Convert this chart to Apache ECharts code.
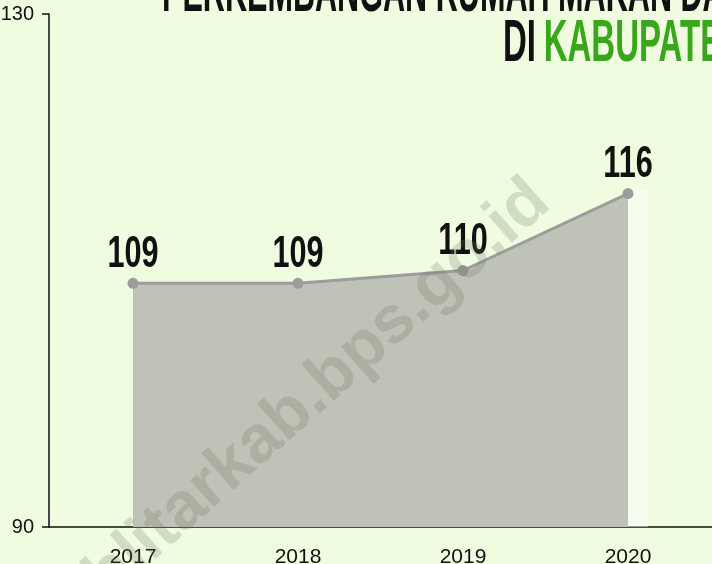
<!DOCTYPE html>
<html>
<head>
<meta charset="utf-8">
<script src="https://cdn.jsdelivr.net/npm/echarts@6/dist/echarts.min.js"></script>
<style>
  html, body { margin: 0; padding: 0; background: #f0fce0; }
  #chart { width: 712px; height: 564px; }
</style>
</head>
<body>
<div id="chart"></div>
<script>
// data
var years = [2017, 2018, 2019, 2020];
var values = [109, 109, 110, 116];
var yTicks = [90, 130];

var sans = "'Liberation Sans', Arial, sans-serif";

var myChart = echarts.init(document.getElementById('chart'));

// judul (terpotong di tepi gambar) + watermark
var baseGraphic = [
  {
    type: 'text',
    left: 162, top: -36,
    scaleX: 0.51,
    style: {
      text: 'PERKEMBANGAN RUMAH MAKAN DAN RESTORAN',
      fontFamily: sans, fontWeight: 'bold', fontSize: 60, fill: '#111'
    },
    z: 10
  },
  {
    type: 'text',
    left: 503, top: 14,
    scaleX: 0.55,
    style: {
      text: '{a|DI}{s| }{b|KABUPATEN BLITAR}',
      rich: {
        a: { fontFamily: sans, fontWeight: 'bold', fontSize: 60, fill: '#111' },
        s: { fontFamily: sans, fontSize: 60, width: 14 },
        b: { fontFamily: sans, fontWeight: 'bold', fontSize: 60, fill: '#3aa61c' }
      }
    },
    z: 10
  },
  {
    type: 'text',
    x: 318, y: 390,
    rotation: 0.726,
    style: {
      text: 'blitarkab.bps.go.id',
      fontFamily: sans,
      fontWeight: 'bold', fontSize: 67,
      fill: 'rgba(100,112,90,0.22)',
      align: 'center', verticalAlign: 'middle'
    },
    z: 20
  }
];

var option = {
  backgroundColor: '#f0fce0',
  animation: false,
  grid: { left: 49, right: 0, top: 14, bottom: 37, outerBoundsMode: 'none', containLabel: false },
  xAxis: {
    type: 'value',
    min: 2016.491,
    max: 2020.509,
    splitLine: { show: false },
    axisTick: { show: false },
    axisLine: { lineStyle: { color: '#111', width: 1.5 } },
    axisLabel: {
      customValues: years,
      formatter: function (v) { return String(v); },
      color: '#111',
      fontFamily: sans,
      fontSize: 21,
      margin: 20
    }
  },
  yAxis: {
    type: 'value',
    min: 90,
    max: 130,
    splitLine: { show: false },
    axisLine: { show: true, lineStyle: { color: '#111', width: 1.5 } },
    axisTick: { show: true, customValues: yTicks, length: 7, lineStyle: { color: '#111', width: 1.5 } },
    axisLabel: {
      customValues: yTicks,
      color: '#111',
      fontFamily: sans,
      fontSize: 20,
      margin: 15
    }
  },
  graphic: baseGraphic,
  series: [
    {
      type: 'line',
      data: years.map(function (y, i) { return [y, values[i]]; }),
      symbol: 'circle',
      symbolSize: 11,
      itemStyle: { color: '#9c9c9c' },
      lineStyle: { color: '#9c9c9c', width: 3 },
      areaStyle: { color: '#bfc2b7', opacity: 1, origin: 'start' },
      markArea: {
        silent: true,
        itemStyle: { color: 'rgba(255,255,255,0.45)' },
        data: [[{ coord: [2020, 90] }, { coord: [2020.12, 116.3] }]]
      }
    }
  ]
};
myChart.setOption(option);

// label nilai: huruf sempit, posisi dari skala sumbu
var labels = years.map(function (y, i) {
  var p = myChart.convertToPixel({ xAxisIndex: 0, yAxisIndex: 0 }, [y, values[i]]);
  return {
    type: 'text',
    x: p[0], y: p[1] - 6,
    scaleX: 0.68,
    style: {
      text: String(values[i]),
      fontFamily: sans, fontWeight: 'bold', fontSize: 45, fill: '#111',
      align: 'center', verticalAlign: 'bottom'
    },
    z: 15
  };
});
option.graphic = baseGraphic.concat(labels);
myChart.setOption(option, true);
</script>
</body>
</html>
